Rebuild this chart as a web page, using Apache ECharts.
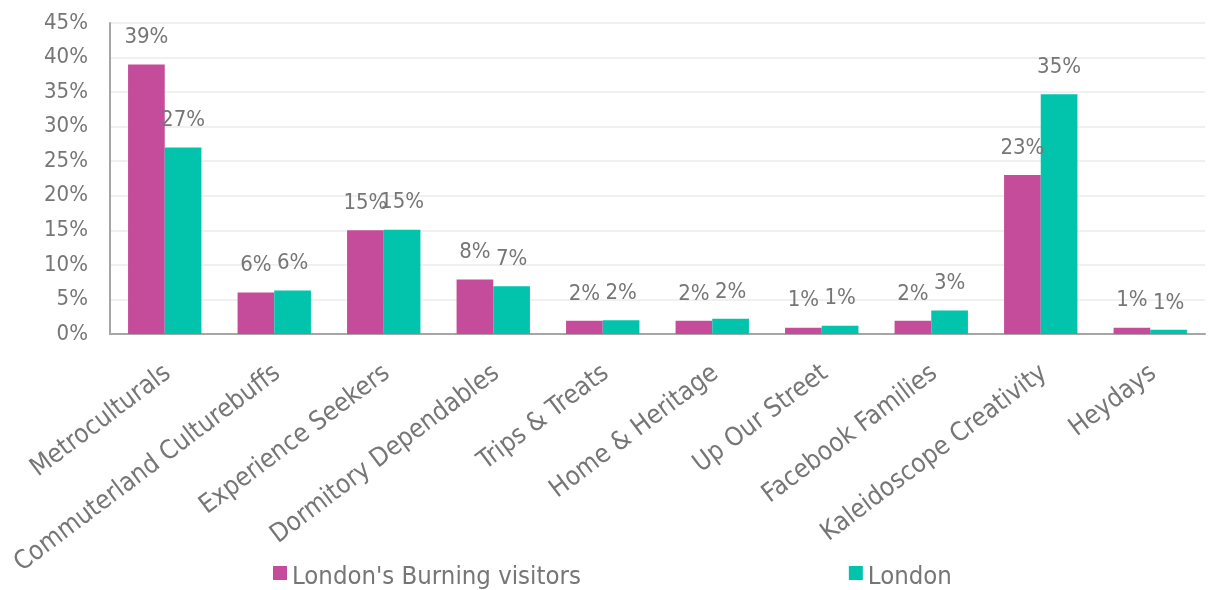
<!DOCTYPE html>
<html>
<head>
<meta charset="utf-8">
<script src="https://cdn.jsdelivr.net/npm/echarts@6/dist/echarts.min.js"></script>
<style>
  html, body { margin: 0; padding: 0; background: #ffffff; }
  #chart { width: 1209px; height: 590px; }
</style>
</head>
<body>
<div id="chart"></div>
<script>
// Audience segments
const categories = [
  'Metroculturals', 'Commuterland Culturebuffs', 'Experience Seekers',
  'Dormitory Dependables', 'Trips & Treats', 'Home & Heritage',
  'Up Our Street', 'Facebook Families', 'Kaleidoscope Creativity', 'Heydays'
];

// Share of each group, in percent
const burningVisitors = [39, 6, 15, 7.9, 1.9, 1.9, 0.9, 1.9, 23, 0.9];
const londonPop = [27, 6.3, 15.1, 6.9, 2.0, 2.2, 1.2, 3.4, 34.7, 0.6];

const seriesNames = ["London's Burning visitors", 'London'];

const FONT = '"DejaVu Sans Condensed", "DejaVu Sans", sans-serif';
const TEXT = '#767676';

const chart = echarts.init(document.getElementById('chart'), null, { renderer: 'canvas' });

const label = {
  show: true,
  position: 'top',
  distance: 16,
  color: TEXT,
  fontSize: 22,
  fontFamily: FONT,
  formatter: p => Math.round(p.value) + '%'
};

chart.setOption({
  animation: false,
  backgroundColor: '#ffffff',
  textStyle: { fontFamily: FONT },
  grid: { left: 110, right: 4, top: 23, bottom: 256, containLabel: false },
  legend: {
    left: 273,
    top: 564,
    padding: 0,
    itemWidth: 14,
    itemHeight: 14,
    itemGap: 268,
    icon: 'rect',
    formatter: name => '{t|' + name + '}',
    textStyle: {
      color: TEXT,
      fontSize: 25.5,
      fontFamily: FONT,
      rich: {
        t: { color: TEXT, fontSize: 25.5, fontFamily: FONT, padding: [8, 0, 0, 0] }
      }
    },
    data: seriesNames
  },
  xAxis: {
    type: 'category',
    data: categories,
    axisLine: { lineStyle: { color: '#a6a6a6', width: 2 } },
    axisTick: { show: false },
    axisLabel: {
      interval: 0,
      rotate: 37,
      margin: 39,
      padding: [0, -4, 0, 0],
      color: TEXT,
      fontSize: 26,
      fontFamily: FONT
    }
  },
  yAxis: {
    type: 'value',
    min: 0,
    max: 45,
    interval: 5,
    axisLine: { show: true, lineStyle: { color: '#a6a6a6', width: 2 } },
    axisTick: { show: false },
    splitLine: { lineStyle: { color: '#f0f0f0', width: 2 } },
    axisLabel: {
      margin: 22,
      color: TEXT,
      fontSize: 22,
      fontFamily: FONT,
      formatter: '{value}%'
    }
  },
  series: [
    {
      name: seriesNames[0],
      type: 'bar',
      data: burningVisitors,
      barGap: '0%',
      barCategoryGap: '33%',
      itemStyle: { color: '#c54c9a' },
      label: label
    },
    {
      name: seriesNames[1],
      type: 'bar',
      data: londonPop,
      itemStyle: { color: '#02c4ac' },
      label: label
    }
  ]
});
</script>
</body>
</html>
